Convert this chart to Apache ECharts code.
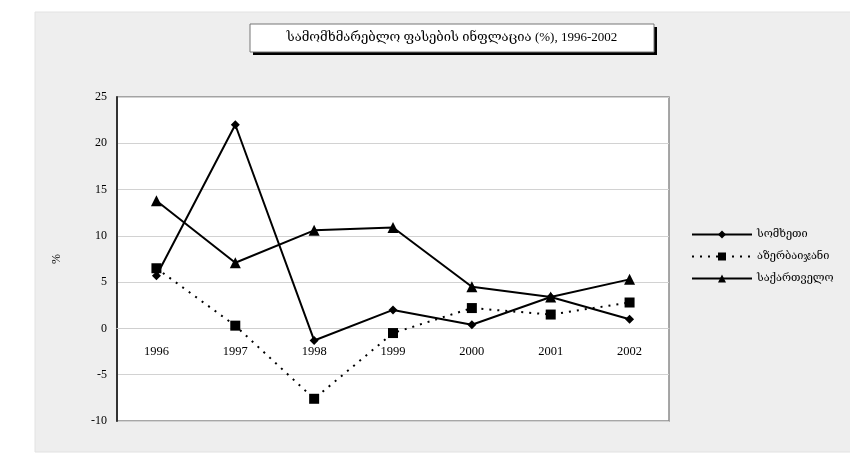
<!DOCTYPE html>
<html>
<head>
<meta charset="utf-8">
<script src="https://cdn.jsdelivr.net/npm/echarts@6/dist/echarts.min.js"></script>
<style>
html,body{margin:0;padding:0;background:#fff;}
#chart{width:850px;height:463px;}
</style>
</head>
<body>
<div id="chart"></div>
<script>
// წლები და ინფლაცია (%)
var years = ['1996', '1997', '1998', '1999', '2000', '2001', '2002'];
var armenia = [5.7, 22.0, -1.3, 2.0, 0.4, 3.4, 1.0];
var azerbaijan = [6.5, 0.3, -7.6, -0.5, 2.2, 1.5, 2.8];
var georgia = [13.8, 7.1, 10.6, 10.9, 4.5, 3.4, 5.3];
var names = ['სომხეთი', 'აზერბაიჯანი', 'საქართველო'];
var titleText = 'სამომხმარებლო ფასების ინფლაცია (%), 1996-2002';

(function(){

var myChart = echarts.init(document.getElementById('chart'));
var font = "'Liberation Serif', 'DejaVu Serif', serif";

option = {
    backgroundColor: '#ffffff',
    textStyle: { fontFamily: font, color: '#000' },
    graphic: [
        {
            type: 'rect',
            z: -10,
            shape: { x: 35, y: 12, width: 820, height: 440 },
            style: { fill: '#eeeeee', stroke: '#e2e2e2', lineWidth: 1 }
        },
        // სათაურის ჩარჩო
        {
            type: 'rect',
            z: 10,
            shape: { x: 253, y: 27, width: 404, height: 28 },
            style: { fill: '#000' }
        },
        {
            type: 'rect',
            z: 11,
            shape: { x: 250, y: 24, width: 404, height: 28 },
            style: { fill: '#fff', stroke: '#777', lineWidth: 1 }
        },
        {
            type: 'text',
            z: 12,
            x: 452,
            y: 38,
            style: {
                text: titleText,
                font: "13px 'Liberation Serif', 'DejaVu Serif', serif",
                fill: '#000',
                align: 'center',
                verticalAlign: 'middle'
            }
        }
    ],
    legend: {
        orient: 'vertical',
        left: 686,
        top: 224,
        itemWidth: 60,
        itemHeight: 10,
        itemGap: 11,
        textStyle: { fontFamily: font, fontSize: 11, color: '#000' },
        data: names
    },
    grid: {
        left: 117,
        right: 181,
        top: 97,
        bottom: 42,
        show: true,
        backgroundColor: '#ffffff',
        borderColor: '#8a8a8a',
        borderWidth: 1.5
    },
    xAxis: {
        type: 'category',
        data: years,
        offset: -93,
        axisLine: { onZero: false, lineStyle: { color: '#cfcfcf', width: 1 } },
        axisTick: { show: false },
        axisLabel: { margin: 17, fontSize: 12.5, color: '#000', fontFamily: font }
    },
    yAxis: {
        type: 'value',
        min: -10,
        max: 25,
        interval: 5,
        name: '%',
        nameLocation: 'middle',
        nameGap: 54,
        nameTextStyle: { fontSize: 12, color: '#000', fontFamily: font },
        axisLine: { show: true, lineStyle: { color: '#333', width: 2 } },
        axisTick: { show: false },
        axisLabel: { margin: 10, fontSize: 12, color: '#000', fontFamily: font },
        splitLine: { lineStyle: { color: '#d2d2d2', width: 1 } }
    },
    series: [
        {
            name: names[0],
            type: 'line',
            data: armenia,
            symbol: 'diamond',
            symbolSize: 9,
            itemStyle: { color: '#000' },
            lineStyle: { color: '#000', width: 2 }
        },
        {
            name: names[1],
            type: 'line',
            data: azerbaijan,
            symbol: 'rect',
            symbolSize: 10,
            itemStyle: { color: '#000' },
            lineStyle: { color: '#000', width: 2, type: [2, 6] }
        },
        {
            name: names[2],
            type: 'line',
            data: georgia,
            symbol: 'triangle',
            symbolSize: 11,
            itemStyle: { color: '#000' },
            lineStyle: { color: '#000', width: 2 }
        }
    ]
};

myChart.setOption(option);
})();
</script>
</body>
</html>
